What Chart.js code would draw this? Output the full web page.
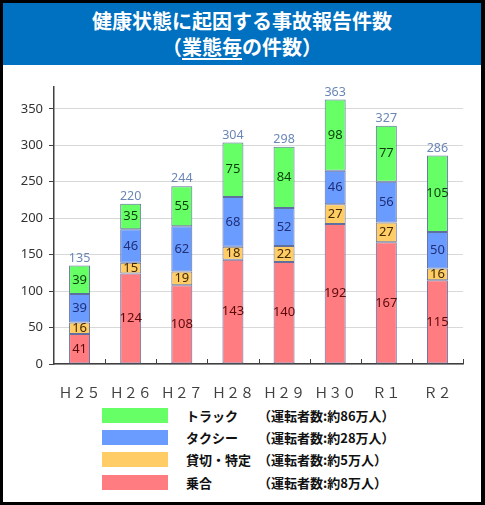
<!DOCTYPE html>
<html>
<head>
<meta charset="utf-8">
<script src="https://cdn.jsdelivr.net/npm/chart.js@4/dist/chart.umd.min.js"></script>
<style>
  body { margin: 0; background: #fff; }
  #frame {
    position: relative; width: 485px; height: 505px; box-sizing: border-box;
    border: 3px solid #000; border-right-width: 4px; background: #fff;
    font-family: "Noto Sans CJK JP", "Noto Sans", sans-serif;
  }
  #title {
    position: absolute; left: 0; top: 0; right: 0; height: 62px;
    background: #0070C0; color: #fff; font-weight: bold; font-size: 20px;
    text-align: center; line-height: 26px; padding-top: 5px; box-sizing: border-box;
  }
  #title u { text-underline-offset: 3px; }
  #chartBox { position: absolute; left: 0; top: 62px; width: 478px; height: 335px; }
  #legend { position: absolute; left: 99px; top: 401px; font-size: 13px; font-weight: bold; color: #111; }
  .row { display: flex; align-items: center; height: 22.3px; }
  .sw { width: 66px; height: 15px; margin-right: 18px; }
  .nm { width: 72px; }
</style>
</head>
<body>
<div id="frame">
  <div id="title">健康状態に起因する事故報告件数<br>（<u>業態毎</u>の件数）</div>
  <div id="chartBox"><canvas id="c"></canvas></div>
  <div id="legend"></div>
</div>
<script>
// 年度
var years = ['Ｈ２５', 'Ｈ２６', 'Ｈ２７', 'Ｈ２８', 'Ｈ２９', 'Ｈ３０', 'Ｒ１', 'Ｒ２'];
// 業態別件数（下から積み上げ）
var noriai = [41, 124, 108, 143, 140, 192, 167, 115];     // 乗合
var kashikiri = [16, 15, 19, 18, 22, 27, 27, 16];         // 貸切・特定
var taxi = [39, 46, 62, 68, 52, 46, 56, 50];              // タクシー
var truck = [39, 35, 55, 75, 84, 98, 77, 105];            // トラック
var totals = [135, 220, 244, 304, 298, 363, 327, 286];
var yTicks = [0, 50, 100, 150, 200, 250, 300, 350];

var legendNames = ['トラック', 'タクシー', '貸切・特定', '乗合'];
var legendNotes = ['（運転者数:約86万人）', '（運転者数:約28万人）', '（運転者数:約5万人）', '（運転者数:約8万人）'];

var fills = ['#FF7C80', '#FFCC66', '#6A9BFF', '#66FF66'];
var textCols = ['#5a0a0a', '#3f2a00', '#1f2f78', '#0d3d0d'];

var ds = [noriai, kashikiri, taxi, truck].map(function (d, i) {
  return {
    label: legendNames[3 - i],
    data: d,
    backgroundColor: fills[i],
    borderColor: '#5f6f9f',
    borderWidth: 1,
    borderSkipped: false,
    barPercentage: 0.41,
    categoryPercentage: 1
  };
});

// legend (HTML)
var lg = document.getElementById('legend');
legendNames.forEach(function (n, i) {
  var r = document.createElement('div');
  r.className = 'row';
  r.innerHTML = '<div class="sw" style="background:' + fills[3 - i] + '"></div><div class="nm">' + n + '</div><div>' + legendNotes[i] + '</div>';
  lg.appendChild(r);
});

var labelsPlugin = {
  id: 'segLabels',
  afterDatasetsDraw: function (chart) {
    var ctx = chart.ctx;
    ctx.save();
    ctx.textAlign = 'center';
    ctx.textBaseline = 'middle';
    chart.data.datasets.forEach(function (d, di) {
      var meta = chart.getDatasetMeta(di);
      ctx.font = '13px "Noto Sans", sans-serif';
      ctx.fillStyle = textCols[di];
      meta.data.forEach(function (bar, i) {
        ctx.fillText(d.data[i], bar.x, (bar.y + bar.base) / 2);
      });
    });
    var top = chart.getDatasetMeta(chart.data.datasets.length - 1);
    ctx.font = '12.5px "Noto Sans", sans-serif';
    ctx.fillStyle = '#6a86b6';
    ctx.textBaseline = 'bottom';
    top.data.forEach(function (bar, i) {
      ctx.fillText(totals[i], bar.x, bar.y - 1);
    });
    // x axis inner tick marks between categories
    var xs = chart.scales.x;
    var step = xs.width / years.length;
    ctx.strokeStyle = '#404040';
    ctx.lineWidth = 1;
    ctx.beginPath();
    for (var k = 1; k <= years.length; k++) {
      var px = Math.round(xs.getPixelForValue(k - 1) + step / 2) + 0.5;
      ctx.moveTo(px, xs.top);
      ctx.lineTo(px, xs.top - 5);
    }
    ctx.stroke();
    ctx.restore();
  }
};

new Chart(document.getElementById('c'), {
  type: 'bar',
  data: { labels: years, datasets: ds },
  options: {
    responsive: true,
    maintainAspectRatio: false,
    animation: false,
    layout: { padding: { top: 22, right: 18, left: 0, bottom: 0 } },
    plugins: { legend: { display: false }, tooltip: { enabled: false } },
    scales: {
      x: {
        stacked: true,
        grid: { display: false },
        border: { color: '#404040', width: 1.5 },
        ticks: { color: '#404040', font: { size: 14, family: '"Noto Sans CJK JP", sans-serif' }, padding: 12 },
        afterFit: function (s) { s.height = 36; }
      },
      y: {
        stacked: true,
        min: 0,
        max: 380,
        grid: { color: '#d9d9d9', tickColor: '#404040', tickLength: 5 },
        border: { color: '#404040', width: 1.5 },
        ticks: { stepSize: 50, color: '#333', font: { size: 13, family: '"Noto Sans", sans-serif' }, padding: 6 },
        afterBuildTicks: function (s) { s.ticks = yTicks.map(function (v) { return { value: v }; }); },
        afterFit: function (s) { s.width = 51; }
      }
    }
  },
  plugins: [labelsPlugin]
});
</script>
</body>
</html>
